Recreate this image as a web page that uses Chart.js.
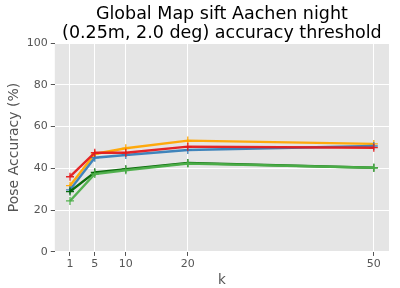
<!DOCTYPE html>
<html>
<head>
<meta charset="utf-8">
<script src="https://cdn.jsdelivr.net/npm/chart.js@4"></script>
<style>
  html, body { margin: 0; padding: 0; background: #fff; }
  #wrap { width: 400px; height: 288px; }
</style>
</head>
<body>
<div id="wrap"><canvas id="chart"></canvas></div>
<script>
// Data
const kValues = [1, 5, 10, 20, 50];
const xTicks = [1, 5, 10, 20, 50];
const redVals = [36.0, 47.5, 47.5, 50.4, 49.9];
const orangeVals = [31.7, 46.9, 49.6, 53.3, 51.7];
const blueVals = [29.7, 45.1, 46.4, 48.8, 50.7];
const darkGreenVals = [28.9, 38.1, 39.6, 42.6, 40.3];
const greenVals = [24.4, 37.3, 39.1, 42.3, 40.3];
const titleLines = ["Global Map sift Aachen night", "(0.25m, 2.0 deg) accuracy threshold"];

const toPoints = (vals) => vals.map((v, i) => ({ x: kValues[i], y: v }));

const makeSet = (vals, color) => ({
  data: toPoints(vals),
  borderColor: color,
  backgroundColor: color,
  borderWidth: 2.4,
  pointStyle: "cross",
  pointRadius: 4,
  pointBorderWidth: 1.3,
  pointHoverRadius: 4,
  tension: 0,
});

// Grey panel behind the plot, ggplot style
const panelBg = {
  id: "panelBg",
  beforeDraw(chart) {
    const { ctx, chartArea: a } = chart;
    ctx.save();
    ctx.fillStyle = "#e5e5e5";
    ctx.fillRect(a.left, a.top, a.right - a.left, a.bottom - a.top);
    ctx.restore();
  },
};

// Title centred over the plot area (like matplotlib)
const axesTitle = {
  id: "axesTitle",
  afterDraw(chart) {
    const { ctx, chartArea: a } = chart;
    const cx = (a.left + a.right) / 2;
    ctx.save();
    ctx.fillStyle = "#000";
    ctx.font = "17.5px 'DejaVu Sans'";
    ctx.textAlign = "center";
    ctx.textBaseline = "alphabetic";
    ctx.fillText(titleLines[0], cx, 19);
    ctx.fillText(titleLines[1], cx, 38);
    ctx.restore();
  },
};

const tickFont = { family: "DejaVu Sans", size: 11 };

new Chart(document.getElementById("chart"), {
  type: "line",
  data: {
    datasets: [
      makeSet(redVals, "rgba(228,26,28,0.95)"),
      makeSet(greenVals, "rgba(77,175,74,0.95)"),
      makeSet(darkGreenVals, "rgba(0,100,0,0.95)"),
      makeSet(blueVals, "rgba(55,126,184,0.95)"),
      makeSet(orangeVals, "rgba(255,165,0,0.95)"),
    ],
  },
  options: {
    responsive: true,
    maintainAspectRatio: false,
    animation: false,
    layout: { padding: { left: 6, right: 11, top: 43, bottom: 0 } },
    scales: {
      x: {
        type: "linear",
        min: -1.45,
        max: 52.45,
        afterBuildTicks: (axis) => {
          axis.ticks = xTicks.map((v) => ({ value: v }));
        },
        ticks: { color: "#555", font: tickFont, padding: 2, maxRotation: 0 },
        grid: { color: "#fff", lineWidth: 1, tickColor: "#555", tickLength: 4 },
        border: { display: false },
        title: {
          display: true,
          text: "k",
          color: "#555",
          font: { family: "DejaVu Sans", size: 13.5, lineHeight: 1.1 },
          padding: { top: 0, bottom: 0 },
        },
      },
      y: {
        min: 0,
        max: 100,
        ticks: { stepSize: 20, color: "#555", font: tickFont, padding: 3 },
        grid: { color: "#fff", lineWidth: 1, tickColor: "#555", tickLength: 4 },
        border: { display: false },
        title: {
          display: true,
          text: "Pose Accuracy (%)",
          color: "#555",
          font: { family: "DejaVu Sans", size: 14 },
          padding: { top: 0, bottom: 1 },
        },
      },
    },
    plugins: {
      legend: { display: false },
      tooltip: { enabled: false },
      title: { display: false },
    },
  },
  plugins: [panelBg, axesTitle],
});
</script>
</body>
</html>
